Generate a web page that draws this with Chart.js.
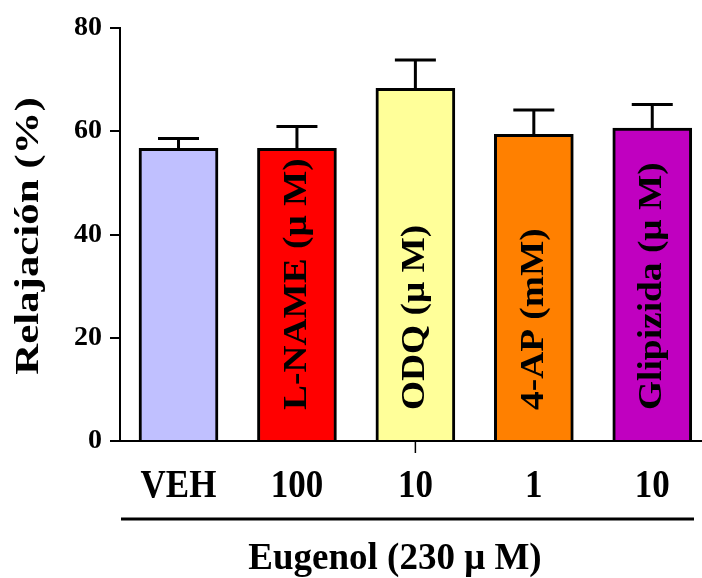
<!DOCTYPE html>
<html>
<head>
<meta charset="utf-8">
<script src="https://cdn.jsdelivr.net/npm/chart.js@4"></script>
<style>
  html, body { margin: 0; padding: 0; background: #fff; overflow: hidden; }
  canvas { display: block; }
</style>
</head>
<body>
<canvas id="chart" width="702" height="578"></canvas>
<script>
// Relaxation (%) data
const doseLabels = ['VEH', '100', '10', '1', '10'];
const barLabels = ['', 'L-NAME (μ M)', 'ODQ (μ M)', '4-AP (mM)', 'Glipizida (μ M)'];
const relaxMeans = [56.7, 56.7, 68.3, 59.4, 60.6];
const relaxErrors = [1.9, 4.2, 5.5, 4.7, 4.6];
const barColors = ['#C0C0FF', '#FF0000', '#FFFF99', '#FF8000', '#C000C0'];
const yTicks = [0, 20, 40, 60, 80];
const yTitle = 'Relajación (%)';
const xTitle = 'Eugenol (230 μ M)';

const SERIF = "'Liberation Serif', Tinos, 'Times New Roman', Times, 'DejaVu Serif', serif";

// draw text with a stretch along its length (the figure text is elongated)
function stretchedText(ctx, text, x, y, size, stretch, angle, align) {
    ctx.save();
    ctx.translate(x, y);
    ctx.rotate(angle);
    ctx.scale(stretch, 1);
    ctx.font = 'bold ' + size + 'px ' + SERIF;
    ctx.fillStyle = '#000';
    ctx.textAlign = align;
    ctx.textBaseline = 'middle';
    ctx.fillText(text, 0, 0);
    ctx.restore();
}

const figurePlugin = {
    id: 'figureExtras',
    afterDatasetsDraw(chart) {
        const ctx = chart.ctx;
        const xs = chart.scales.x;
        const ys = chart.scales.y;

        // upper error bars
        ctx.save();
        ctx.strokeStyle = '#000';
        ctx.lineWidth = 3;
        ctx.lineCap = 'butt';
        relaxMeans.forEach((m, i) => {
            const cx = xs.getPixelForValue(i);
            const top = ys.getPixelForValue(m);
            const cap = ys.getPixelForValue(m + relaxErrors[i]);
            ctx.beginPath();
            ctx.moveTo(cx, top);
            ctx.lineTo(cx, cap);
            ctx.moveTo(cx - 20.5, cap);
            ctx.lineTo(cx + 20.5, cap);
            ctx.stroke();
        });
        ctx.restore();

        // rotated labels inside bars
        barLabels.forEach((t, i) => {
            if (!t) return;
            stretchedText(ctx, t, xs.getPixelForValue(i), 410, 34, 1.1, -Math.PI / 2, 'left');
        });
    },
    afterDraw(chart) {
        const ctx = chart.ctx;
        const xs = chart.scales.x;
        const area = chart.chartArea;

        // dose labels under each bar
        ctx.save();
        ctx.fillStyle = '#000';
        ctx.font = 'bold 35px ' + SERIF;
        ctx.textAlign = 'center';
        ctx.textBaseline = 'alphabetic';
        doseLabels.forEach((t, i) => {
            ctx.save();
            ctx.translate(xs.getPixelForValue(i), 497);
            ctx.scale(1, 1.15);
            ctx.fillText(t, 0, 0);
            ctx.restore();
        });
        ctx.restore();

        // small tick below the ODQ bar
        ctx.save();
        ctx.strokeStyle = '#000';
        ctx.lineWidth = 1.5;
        ctx.beginPath();
        ctx.moveTo(xs.getPixelForValue(2), area.bottom);
        ctx.lineTo(xs.getPixelForValue(2), area.bottom + 12);
        ctx.stroke();

        // bracket line over the group title
        ctx.lineWidth = 3;
        ctx.beginPath();
        ctx.moveTo(121, 519);
        ctx.lineTo(694, 519);
        ctx.stroke();
        ctx.restore();

        // group title
        stretchedText(ctx, xTitle, 395, 559, 37, 1.0, 0, 'center');

        // y axis title
        stretchedText(ctx, yTitle, 29, 236, 33, 1.3, -Math.PI / 2, 'center');
    }
};

const ctx = document.getElementById('chart').getContext('2d');
new Chart(ctx, {
    type: 'bar',
    data: {
        datasets: [{
            data: relaxMeans.map((v, i) => ({ x: i, y: v })),
            backgroundColor: barColors,
            borderColor: '#000',
            borderWidth: 3,
            borderSkipped: 'bottom',
            barThickness: 79
        }]
    },
    options: {
        responsive: false,
        animation: false,
        maintainAspectRatio: false,
        layout: { padding: { top: 28, right: 0, left: 0, bottom: 0 } },
        plugins: {
            legend: { display: false },
            tooltip: { enabled: false }
        },
        scales: {
            x: {
                type: 'linear',
                offset: false,
                min: -0.494,
                max: 4.42,
                afterFit: s => { s.height = 137; },
                grid: { display: false },
                border: { display: true, color: '#000', width: 2 },
                ticks: { display: false }
            },
            y: {
                min: 0,
                max: 80,
                afterFit: s => { s.width = 120; },
                afterBuildTicks: s => { s.ticks = yTicks.map(v => ({ value: v })); },
                grid: {
                    drawOnChartArea: false,
                    drawTicks: true,
                    tickLength: 10,
                    color: '#000',
                    lineWidth: 2
                },
                border: { display: true, color: '#000', width: 2 },
                ticks: {
                    color: '#000',
                    padding: 8,
                    font: { family: SERIF, size: 28, weight: 'bold' }
                }
            }
        }
    },
    plugins: [figurePlugin]
});
</script>
</body>
</html>
